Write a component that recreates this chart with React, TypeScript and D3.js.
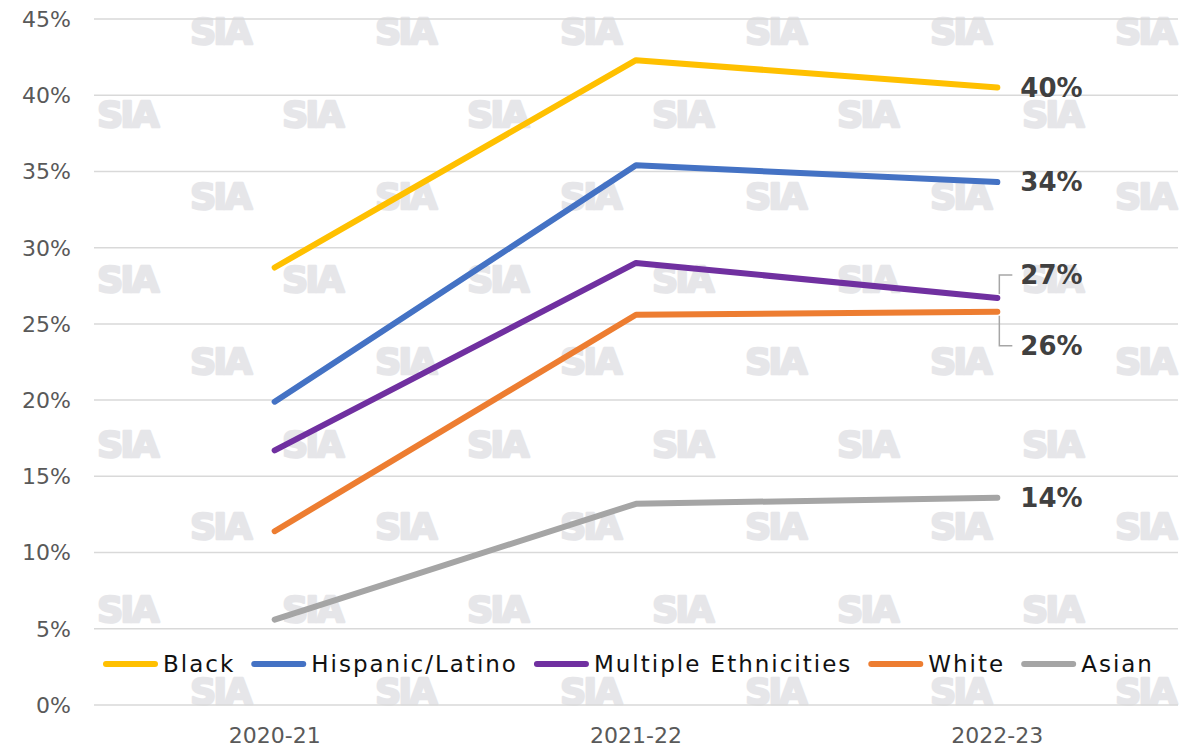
import React, { useEffect, useRef } from "react";
import * as d3 from "d3";

const categories = ["2020-21", "2021-22", "2022-23"];
const seriesNames = ["Black", "Hispanic/Latino", "Multiple Ethnicities", "White", "Asian"];
const blackValues = [28.7, 42.3, 40.5];
const hispanicValues = [19.9, 35.4, 34.3];
const multipleValues = [16.7, 29.0, 26.7];
const whiteValues = [11.4, 25.6, 25.8];
const asianValues = [5.6, 13.2, 13.6];
const endLabels = ["40%", "34%", "27%", "26%", "14%"];
const seriesColors = ["#FFC000", "#4472C4", "#7030A0", "#ED7D31", "#A5A5A5"];
const yTicks = [0, 5, 10, 15, 20, 25, 30, 35, 40, 45];
// pixel shift of the end labels (layout only)
const labelShift = [0, 0, -23, 34, 0];

const W = 1189;
const H = 747;
const FONT = "'DejaVu Sans', sans-serif";

export default function App() {
  const ref = useRef<SVGSVGElement>(null);

  useEffect(() => {
    const svg = d3.select(ref.current);
    svg.selectAll("*").remove();

    const plotLeft = 94;
    const plotRight = 1178;
    const plotTop = 19;
    const plotBottom = 705;

    const x = d3.scalePoint<string>().domain(categories).range([plotLeft, plotRight]).padding(0.5);
    const y = d3.scaleLinear().domain([0, 45]).range([plotBottom, plotTop]);

    svg.append("rect").attr("width", W).attr("height", H).attr("fill", "#ffffff");

    // watermark
    const wm = svg.append("g");
    const rowStep = 82.5;
    for (let r = 0; r < 9; r++) {
      const cy = 31 + r * rowStep;
      const startX = r % 2 === 0 ? 220 : 127;
      for (let cx = startX; cx < 1189; cx += 185) {
        wm.append("text")
          .attr("x", cx)
          .attr("y", cy + 13)
          .attr("text-anchor", "middle")
          .attr("font-family", FONT)
          .attr("font-weight", 700)
          .attr("font-size", 36)
          .attr("letter-spacing", -2.5)
          .attr("fill", "#e6e6e9")
          .attr("stroke", "#e6e6e9")
          .attr("stroke-width", 2.5)
          .attr("stroke-linejoin", "round")
          .text("SIA");
      }
    }

    // gridlines
    svg.append("g")
      .selectAll("line")
      .data(yTicks)
      .join("line")
      .attr("x1", plotLeft)
      .attr("x2", plotRight)
      .attr("y1", (d) => y(d))
      .attr("y2", (d) => y(d))
      .attr("stroke", "#d9d9d9")
      .attr("stroke-width", 1.5);

    // y tick labels
    svg.append("g")
      .selectAll("text")
      .data(yTicks)
      .join("text")
      .attr("x", 71)
      .attr("y", (d) => y(d))
      .attr("dy", "0.36em")
      .attr("text-anchor", "end")
      .attr("font-family", FONT)
      .attr("font-size", 22)
      .attr("fill", "#595959")
      .text((d) => `${d}%`);

    // x labels
    svg.append("g")
      .selectAll("text")
      .data(categories)
      .join("text")
      .attr("x", (d) => x(d)!)
      .attr("y", 743)
      .attr("text-anchor", "middle")
      .attr("font-family", FONT)
      .attr("font-size", 22)
      .attr("fill", "#595959")
      .text((d) => d);

    const allValues = [blackValues, hispanicValues, multipleValues, whiteValues, asianValues];
    const line = d3
      .line<number>()
      .x((_, i) => x(categories[i])!)
      .y((d) => y(d));

    allValues.forEach((vals, s) => {
      svg.append("path")
        .attr("d", line(vals)!)
        .attr("fill", "none")
        .attr("stroke", seriesColors[s])
        .attr("stroke-width", 6)
        .attr("stroke-linecap", "round")
        .attr("stroke-linejoin", "round");
    });

    // end labels
    allValues.forEach((vals, s) => {
      const last = vals[vals.length - 1];
      const px = x(categories[categories.length - 1])!;
      const py = y(last);
      const ly = py + labelShift[s];
      if (labelShift[s] !== 0) {
        svg.append("path")
          .attr("d", `M${px + 2},${py + (labelShift[s] < 0 ? -4 : 4)} V${ly} H${px + 15}`)
          .attr("fill", "none")
          .attr("stroke", "#a6a6a6")
          .attr("stroke-width", 1.5);
      }
      svg.append("text")
        .attr("x", px + 23)
        .attr("y", ly)
        .attr("dy", "0.36em")
        .attr("font-family", FONT)
        .attr("font-weight", 700)
        .attr("font-size", 26)
        .attr("fill", "#404040")
        .text(endLabels[s]);
    });

    // legend
    const lg = svg.append("g");
    let lx = 103;
    const legY = 664;
    seriesNames.forEach((name, s) => {
      lg.append("line")
        .attr("x1", lx + 3)
        .attr("x2", lx + 52)
        .attr("y1", legY)
        .attr("y2", legY)
        .attr("stroke", seriesColors[s])
        .attr("stroke-width", 6)
        .attr("stroke-linecap", "round");
      const t = lg.append("text")
        .attr("x", lx + 60)
        .attr("y", legY)
        .attr("dy", "0.36em")
        .attr("font-family", FONT)
        .attr("font-size", 23)
        .attr("letter-spacing", 2.0)
        .attr("fill", "#111111")
        .text(name);
      const w = (t.node() as SVGTextElement).getComputedTextLength();
      lx = lx + 60 + w + 16;
    });
  }, []);

  return (
    <svg
      ref={ref}
      width={W}
      height={H}
      style={{ position: "absolute", left: 0, top: 0 }}
    />
  );
}
